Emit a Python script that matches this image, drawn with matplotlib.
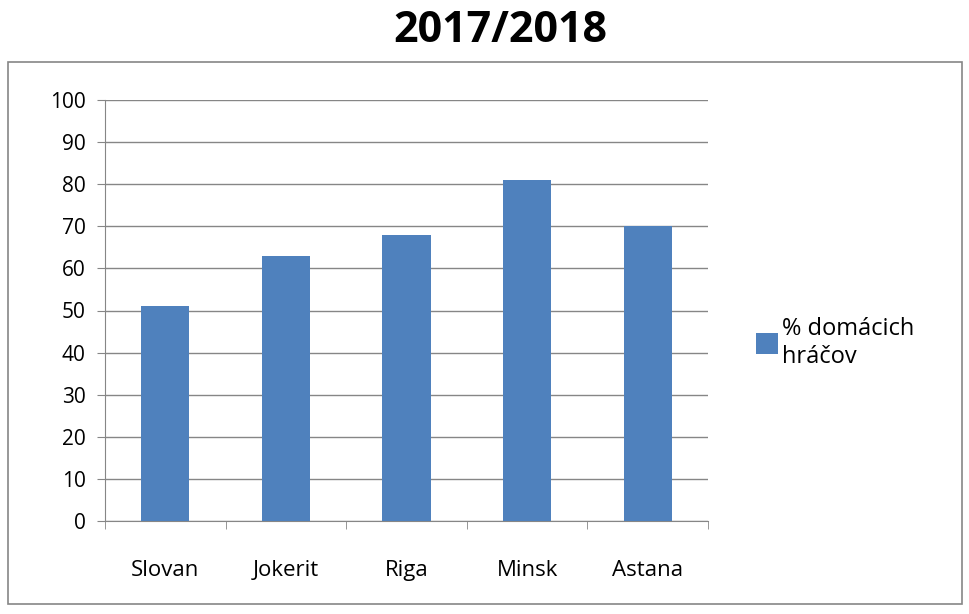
import matplotlib
matplotlib.use("Agg")
import matplotlib.pyplot as plt
from matplotlib.patches import Rectangle
import numpy as np

plt.rcParams['font.family'] = ['Open Sans', 'DejaVu Sans']

categories = ["Slovan", "Jokerit", "Riga", "Minsk", "Astana"]
values = [51, 63, 68, 81, 70]
series_name = "% domácich\nhráčov"
title = "2017/2018"

fig = plt.figure(figsize=(9.69, 6.14), dpi=100)
fig.patch.set_facecolor("white")
fig.add_artist(Rectangle((8/969, 1-604/614), 954/969, 542/614, transform=fig.transFigure,
                         fill=False, edgecolor="#868686", linewidth=1.2))
fig.text(500/969, 1-30/614, title, ha="center", va="center", fontsize=31, fontweight="bold")

ax = fig.add_axes([105/969, 1-521/614, 603/969, 421/614])
x = np.arange(len(categories))
bars = ax.bar(x, values, width=0.4, color="#4f81bd", zorder=3, label=series_name)
ax.set_xlim(-0.5, len(categories)-0.5)
ax.set_ylim(0, 100)
ax.set_yticks(range(0, 101, 10))
ax.yaxis.grid(True, color="#868686", linewidth=1, zorder=0)
ax.set_xticks(x)
ax.set_xticklabels(categories, fontsize=16)
ax.set_xticks(np.arange(-0.5, len(categories), 1), minor=True)
ax.tick_params(axis="x", which="major", length=0, pad=28)
ax.tick_params(axis="x", which="minor", length=6, color="#868686", direction="out")
ax.tick_params(axis="y", labelsize=15, length=6, color="#868686", pad=8)
for s in ["top", "right"]:
    ax.spines[s].set_visible(False)
for s in ["left", "bottom"]:
    ax.spines[s].set_color("#868686")

fig.legend(handles=[bars], labels=[series_name], loc="center left",
           bbox_to_anchor=(735/969, 1-343/614), frameon=False, fontsize=17,
           handlelength=0.9, handleheight=1.0, handletextpad=0.2)

fig.savefig("out.png", dpi=100)
